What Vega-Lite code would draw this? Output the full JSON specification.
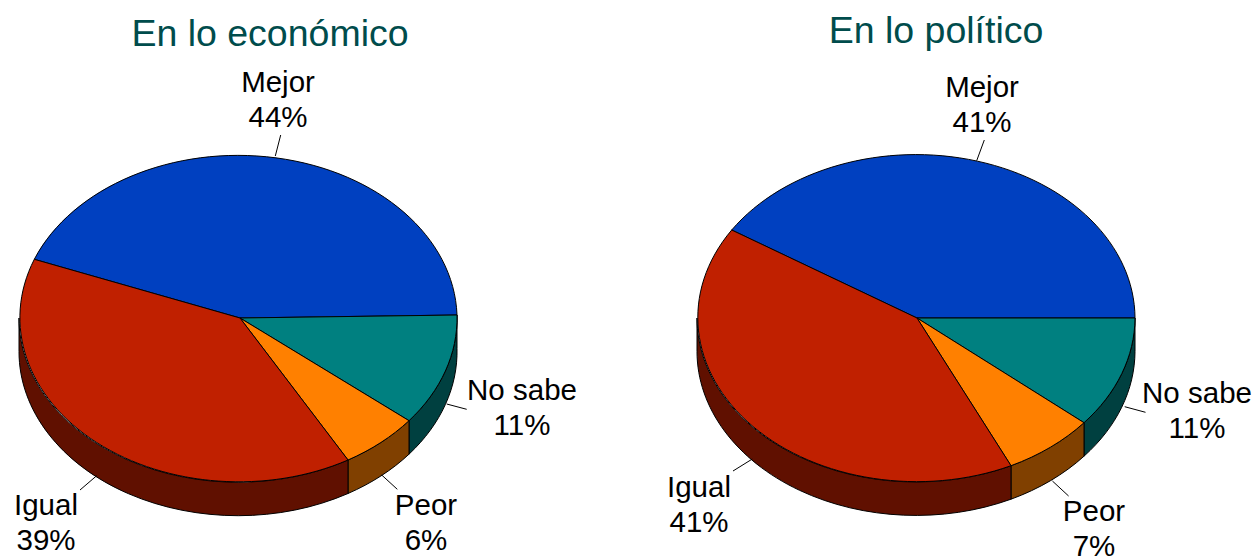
{"$schema":"https://vega.github.io/schema/vega-lite/v6.json","padding":{"left":0,"top":12,"right":0,"bottom":0},"spacing":0,"background":"white","config":{"view":{"stroke":null},"font":"Liberation Sans","title":{"font":"Liberation Sans","fontSize":37.5,"fontWeight":"normal","color":"#004c4c","anchor":"middle","baseline":"alphabetic"}},"hconcat":[{"width":629,"height":500,"title":{"text":"En lo económico","dx":-44.5,"dy":12,"offset":11},"data":{"values":[{"panel":"En lo económico","slice":"Mejor","pct":44,"order":1},{"panel":"En lo económico","slice":"No sabe","pct":11,"order":2},{"panel":"En lo económico","slice":"Peor","pct":6,"order":3},{"panel":"En lo económico","slice":"Igual","pct":39,"order":4}]},"layer":[{"transform":[{"filter":"datum.slice !== 'Mejor'"}],"mark":{"type":"point","filled":true,"size":4,"opacity":1,"stroke":"black","strokeWidth":1},"encoding":{"x":{"field":"panel","type":"nominal","axis":null,"scale":{"range":[238,238]}},"y":{"field":"panel","type":"nominal","axis":null,"scale":{"range":[266,266]}},"shape":{"field":"slice","type":"nominal","legend":null,"scale":{"domain":["No sabe","Peor","Igual"],"range":["M219,-3A219,164,0,0,1,171,102.7L171,136.2A219,164,0,0,0,219,30.5Z","M171,102.7A219,164,0,0,1,110,142L110,175.5A219,164,0,0,0,171,136.2Z","M110,142A219,164,0,0,1,-219,0L-219,33.5A219,164,0,0,0,110,175.5Z"]}},"fill":{"field":"slice","type":"nominal","legend":null,"scale":{"domain":["No sabe","Peor","Igual"],"range":["#004040","#804000","#601000"]}}}},{"mark":{"type":"point","filled":true,"size":4,"opacity":1,"stroke":"black","strokeWidth":1},"encoding":{"x":{"field":"panel","type":"nominal","axis":null,"scale":{"range":[238,238]}},"y":{"field":"panel","type":"nominal","axis":null,"scale":{"range":[266,266]}},"shape":{"field":"slice","type":"nominal","legend":null,"scale":{"domain":["Mejor","No sabe","Peor","Igual"],"range":["M2,0L219,-3A219,164,0,0,0,-203.7,-58.7ZM42.7,-183L37.3,-162","M2,0L219,-3A219,164,0,0,1,171,102.7ZM208.7,86L228.7,91.3","M2,0L171,102.7A219,164,0,0,1,110,142ZM143.7,157L159.3,171.3","M2,0L110,142A219,164,0,0,1,-203.7,-58.7ZM-141.3,157.7L-158,172"]}},"fill":{"field":"slice","type":"nominal","legend":null,"scale":{"domain":["Mejor","No sabe","Peor","Igual"],"range":["#0040C0","#008080","#FF8000","#C02000"]}}}},{"transform":[{"calculate":"[datum.slice, datum.pct + '%']","as":"label"}],"mark":{"type":"text","fontSize":29.5,"font":"Liberation Sans","color":"black","align":"center","baseline":"alphabetic","lineHeight":34.5},"encoding":{"x":{"field":"order","type":"quantitative","axis":null,"scale":{"domain":[1,2,3,4],"range":[278,522,426,46],"zero":false,"nice":false}},"y":{"field":"order","type":"quantitative","axis":null,"scale":{"domain":[1,2,3,4],"range":[40,348,463,463],"zero":false,"nice":false}},"text":{"field":"label"}}}],"resolve":{"scale":{"x":"independent","y":"independent","shape":"independent","fill":"independent"}}},{"width":630,"height":500,"title":{"text":"En lo político","dx":-8,"dy":9,"offset":11},"data":{"values":[{"panel":"En lo político","slice":"Mejor","pct":41,"order":1},{"panel":"En lo político","slice":"No sabe","pct":11,"order":2},{"panel":"En lo político","slice":"Peor","pct":7,"order":3},{"panel":"En lo político","slice":"Igual","pct":41,"order":4}]},"layer":[{"transform":[{"filter":"datum.slice !== 'Mejor'"}],"mark":{"type":"point","filled":true,"size":4,"opacity":1,"stroke":"black","strokeWidth":1},"encoding":{"x":{"field":"panel","type":"nominal","axis":null,"scale":{"range":[287,287]}},"y":{"field":"panel","type":"nominal","axis":null,"scale":{"range":[266,266]}},"shape":{"field":"slice","type":"nominal","legend":null,"scale":{"domain":["No sabe","Peor","Igual"],"range":["M219,0A219,164,0,0,1,168,104.7L168,138.2A219,164,0,0,0,219,33.5Z","M168,104.7A219,164,0,0,1,95,147.7L95,181.2A219,164,0,0,0,168,138.2Z","M95,147.7A219,164,0,0,1,-219,0L-219,33.5A219,164,0,0,0,95,181.2Z"]}},"fill":{"field":"slice","type":"nominal","legend":null,"scale":{"domain":["No sabe","Peor","Igual"],"range":["#004040","#804000","#601000"]}}}},{"mark":{"type":"point","filled":true,"size":4,"opacity":1,"stroke":"black","strokeWidth":1},"encoding":{"x":{"field":"panel","type":"nominal","axis":null,"scale":{"range":[287,287]}},"y":{"field":"panel","type":"nominal","axis":null,"scale":{"range":[266,266]}},"shape":{"field":"slice","type":"nominal","legend":null,"scale":{"domain":["Mejor","No sabe","Peor","Igual"],"range":["M1,0L219,0A219,164,0,0,0,-184.3,-88ZM68.3,-178L60.7,-157.3","M1,0L219,0A219,164,0,0,1,168,104.7ZM208.7,88.7L229.5,94.3","M1,0L168,104.7A219,164,0,0,1,95,147.7ZM136.4,163L152.6,178","M1,0L95,147.7A219,164,0,0,1,-184.3,-88ZM-163.7,141L-183,153"]}},"fill":{"field":"slice","type":"nominal","legend":null,"scale":{"domain":["Mejor","No sabe","Peor","Igual"],"range":["#0040C0","#008080","#FF8000","#C02000"]}}}},{"transform":[{"calculate":"[datum.slice, datum.pct + '%']","as":"label"}],"mark":{"type":"text","fontSize":29.5,"font":"Liberation Sans","color":"black","align":"center","baseline":"alphabetic","lineHeight":34.5},"encoding":{"x":{"field":"order","type":"quantitative","axis":null,"scale":{"domain":[1,2,3,4],"range":[353,568,465,70],"zero":false,"nice":false}},"y":{"field":"order","type":"quantitative","axis":null,"scale":{"domain":[1,2,3,4],"range":[45,351,469,445],"zero":false,"nice":false}},"text":{"field":"label"}}}],"resolve":{"scale":{"x":"independent","y":"independent","shape":"independent","fill":"independent"}}}]}
